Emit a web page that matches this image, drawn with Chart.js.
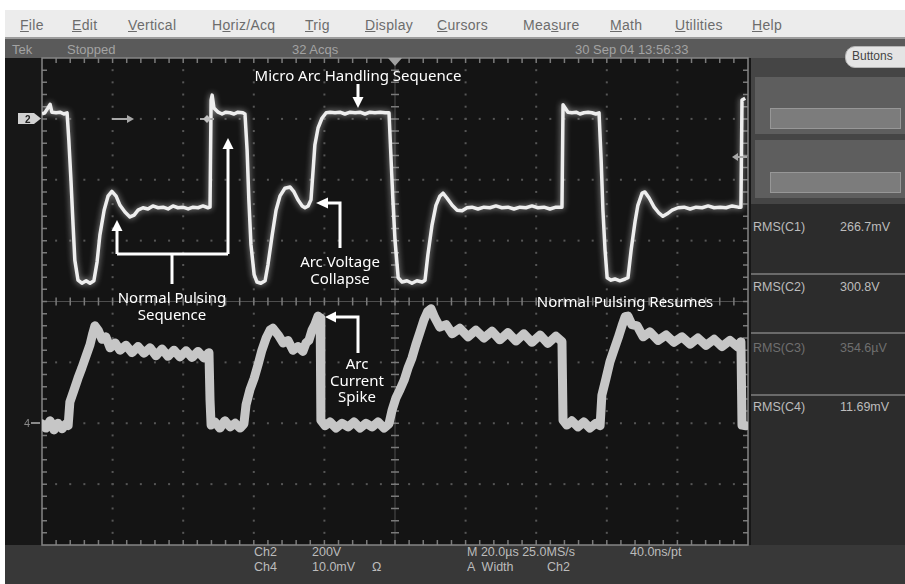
<!DOCTYPE html>
<html>
<head>
<meta charset="utf-8">
<script src="https://cdn.jsdelivr.net/npm/chart.js@4.4.0/dist/chart.umd.min.js"></script>
<style>
  html, body { margin: 0; padding: 0; background: #fff; }
  #page { position: relative; width: 905px; height: 584px; overflow: hidden; font-family: "Liberation Sans", Arial, sans-serif; }
  .a { position: absolute; white-space: pre; }
  .mi { top: 17px; font-size: 14px; line-height: 16px; color: #6c6c6c; letter-spacing: 0.3px; }
  .st { top: 42px; font-size: 13px; line-height: 16px; color: #a3a3a3; }
  .bt { font-size: 12.5px; line-height: 14px; color: #bcbcbc; }
  .rms { font-size: 12.5px; line-height: 14px; color: #bdbdbd; }
  .note { font-family: "Noto Sans", "Open Sans", sans-serif; font-size: 15px; line-height: 17px; color: #fff; text-align: center; transform: translate(-50%, -50%); }
</style>
</head>
<body>
<div id="page">
  <!-- menu bar -->
  <div class="a" style="left:5px;top:10px;width:900px;height:27px;background:#ececec"></div>
  <span class="a mi" style="left:20px"><u>F</u>ile</span>
  <span class="a mi" style="left:72px"><u>E</u>dit</span>
  <span class="a mi" style="left:128px"><u>V</u>ertical</span>
  <span class="a mi" style="left:212px">H<u>o</u>riz/Acq</span>
  <span class="a mi" style="left:305px"><u>T</u>rig</span>
  <span class="a mi" style="left:365px"><u>D</u>isplay</span>
  <span class="a mi" style="left:437px"><u>C</u>ursors</span>
  <span class="a mi" style="left:523px">Mea<u>s</u>ure</span>
  <span class="a mi" style="left:610px"><u>M</u>ath</span>
  <span class="a mi" style="left:675px"><u>U</u>tilities</span>
  <span class="a mi" style="left:752px"><u>H</u>elp</span>

  <!-- status bar -->
  <div class="a" style="left:5px;top:37px;width:900px;height:2px;background:#9c9c9c"></div>
  <div class="a" style="left:5px;top:39px;width:900px;height:19px;background:#5a5a5a"></div>
  <span class="a st" style="left:12px">Tek</span>
  <span class="a st" style="left:67px">Stopped</span>
  <span class="a st" style="left:292px">32 Acqs</span>
  <span class="a st" style="left:575px">30 Sep 04 13:56:33</span>

  <!-- screen backgrounds -->
  <div class="a" style="left:5px;top:58px;width:746px;height:487px;background:#171717"></div>
  <div class="a" style="left:5px;top:545px;width:900px;height:39px;background:#383838"></div>
  <div class="a" style="left:751px;top:58px;width:154px;height:487px;background:#2c2c2c"></div>
  <div class="a" style="left:751px;top:58px;width:154px;height:146px;background:#454545"></div>
  <div class="a" style="left:755px;top:77px;width:150px;height:57px;background:#5e5e5e"></div>
  <div class="a" style="left:770px;top:108px;width:129px;height:19px;background:#7c7c7c;border:1px solid #979797"></div>
  <div class="a" style="left:755px;top:140px;width:150px;height:58px;background:#5e5e5e"></div>
  <div class="a" style="left:770px;top:172px;width:129px;height:19px;background:#7c7c7c;border:1px solid #979797"></div>
  <div class="a" style="left:845px;top:46px;width:70px;height:20px;border-radius:10px;background:#e4e4e4;border:1px solid #b5b5b5"></div>
  <span class="a" style="left:852px;top:49px;font-size:12px;line-height:14px;color:#444">Buttons</span>

  <!-- measurement readouts -->
  <span class="a rms" style="left:753px;top:220px">RMS(C1)</span>
  <span class="a rms" style="left:840px;top:220px">266.7mV</span>
  <div class="a" style="left:751px;top:273px;width:154px;height:2px;background:#6a6a6a"></div>
  <span class="a rms" style="left:753px;top:280px">RMS(C2)</span>
  <span class="a rms" style="left:840px;top:280px">300.8V</span>
  <div class="a" style="left:751px;top:332px;width:154px;height:2px;background:#6a6a6a"></div>
  <span class="a rms" style="left:753px;top:341px;color:#6f6f6f">RMS(C3)</span>
  <span class="a rms" style="left:840px;top:341px;color:#6f6f6f">354.6µV</span>
  <div class="a" style="left:751px;top:394px;width:154px;height:2px;background:#6a6a6a"></div>
  <span class="a rms" style="left:753px;top:400px">RMS(C4)</span>
  <span class="a rms" style="left:840px;top:400px">11.69mV</span>

  <!-- bottom readouts -->
  <span class="a bt" style="left:254px;top:545px">Ch2</span>
  <span class="a bt" style="left:312px;top:545px">200V</span>
  <span class="a bt" style="left:467px;top:545px">M 20.0µs 25.0MS/s</span>
  <span class="a bt" style="left:630px;top:545px">40.0ns/pt</span>
  <span class="a bt" style="left:254px;top:560px">Ch4</span>
  <span class="a bt" style="left:312px;top:560px">10.0mV</span>
  <span class="a bt" style="left:372px;top:560px">Ω</span>
  <span class="a bt" style="left:467px;top:560px">A  Width</span>
  <span class="a bt" style="left:547px;top:560px">Ch2</span>

  <canvas id="scope" width="905" height="584" style="position:absolute;left:0;top:0"></canvas>

  <!-- markers and annotation arrows -->
  <svg class="a" width="905" height="584" style="left:0;top:0">
    <polygon points="18,113 34,113 41,118.5 34,124 18,124" fill="#d2d2d2"/>
    <text x="25" y="122.5" font-size="10" font-family="Liberation Sans" font-weight="bold" fill="#222">2</text>
    <text x="24" y="427" font-size="11" font-family="Liberation Sans" fill="#8a8a8a">4</text>
    <path d="M31 423 H40" stroke="#8a8a8a" stroke-width="2"/>
    <polygon points="388,58 402,58 395,66" fill="#a0a0a0"/>
    <path d="M112 119 H128" stroke="#a8a8a8" stroke-width="2"/>
    <polygon points="127,115 134,119 127,123" fill="#a8a8a8"/>
    <path d="M200 119 H214" stroke="#a8a8a8" stroke-width="2"/>
    <polygon points="207,115 211,119 207,123 203,119" fill="#c0c0c0"/>
    <path d="M737 157 H747" stroke="#a8a8a8" stroke-width="2"/>
    <polygon points="738,153 732,157 738,161" fill="#a8a8a8"/>

    <g stroke="#fff" stroke-width="3" fill="none" stroke-linejoin="miter">
      <path d="M358 84 V99"/>
      <path d="M172 284 V254"/>
      <path d="M117 254 H228"/>
      <path d="M117 254 V230"/>
      <path d="M228 254 V148"/>
      <path d="M340 248 V203 H327"/>
      <path d="M358 353 V317 H335"/>
    </g>
    <g fill="#fff">
      <polygon points="352.5,97 363.5,97 358,108"/>
      <polygon points="111.5,231 122.5,231 117,220"/>
      <polygon points="222.5,149 233.5,149 228,138"/>
      <polygon points="328,197.5 328,208.5 316,203"/>
      <polygon points="336,311.5 336,322.5 325,317"/>
    </g>
  </svg>

  <div class="a note" style="left:358px;top:75px">Micro Arc Handling Sequence</div>
  <div class="a note" style="left:172px;top:306px">Normal Pulsing
Sequence</div>
  <div class="a note" style="left:340px;top:270px">Arc Voltage
Collapse</div>
  <div class="a note" style="left:357px;top:380px;line-height:16.5px">Arc
Current
Spike</div>
  <div class="a note" style="left:625px;top:301px">Normal Pulsing Resumes</div>
</div>

<script>
// time in µs (20 µs/div, 10 div), values in screen divisions (+/-4)
const ch2Time = [0.0, 0.8, 1.7, 2.3, 2.8, 4.0, 5.1, 6.2, 7.1,
  7.6, 8.2, 8.8, 9.3, 10.2, 11.3, 12.5, 13.6, 14.7,
  15.6, 16.4, 17.6, 18.7, 19.8, 21.0, 22.1, 23.5, 24.9, 26.1, 27.2, 28.6, 30.0, 31.4, 32.9, 34.3, 35.7, 37.1, 38.5, 39.9, 41.4, 42.8, 44.2, 45.6, 47.0, 47.6,
  47.9, 48.2, 48.7, 49.9, 51.0, 52.1, 53.3, 54.4, 55.5, 56.9, 57.5,
  58.1, 58.6, 59.2, 60.1, 60.9, 62.0, 63.2,
  64.0, 65.2, 66.3, 67.4, 68.8, 70.3, 71.4, 72.5, 73.7, 74.5, 75.4, 76.2,
  76.8, 77.3, 78.2, 79.3, 80.5, 81.6, 83.0, 84.4, 85.8, 87.3, 88.7, 90.1, 91.5, 92.9, 94.3, 95.8, 97.2, 98.3,
  98.9, 99.4, 100.0, 100.9, 102.0, 103.4, 104.8, 106.2, 107.7, 108.5,
  109.3, 110.5, 111.6, 112.7, 113.6, 114.7, 116.2, 117.6, 119.0, 120.4, 121.8, 123.5, 125.2, 126.9, 128.6, 130.3, 132.0, 133.7, 135.4, 137.1, 138.8, 140.5, 142.2, 143.9, 145.6, 147.3,
  147.6, 148.2, 149.0, 150.1, 151.3, 152.4, 153.5, 154.7, 155.8, 156.9, 157.8,
  158.4, 158.9, 159.5, 160.1, 161.2, 162.3, 163.7, 165.2, 166.0,
  166.9, 168.0, 168.8, 170.0, 170.8, 172.0, 173.4, 174.8, 175.9, 177.1, 178.5, 180.2, 181.9, 183.6, 185.3, 187.0, 188.7, 190.4, 192.1, 193.8, 195.5, 197.2, 198.0,
  198.3, 199.2];
const ch2Div = [3.08, 3.10, 3.18, 3.24, 3.11, 3.10, 3.11, 3.08, 3.10,
  2.65, 2.00, 1.26, 0.68, 0.35, 0.30, 0.34, 0.30, 0.34,
  0.65, 1.09, 1.50, 1.73, 1.81, 1.73, 1.58, 1.47, 1.39, 1.42, 1.50, 1.54, 1.52, 1.57, 1.54, 1.55, 1.52, 1.57, 1.54, 1.55, 1.52, 1.55, 1.54, 1.57, 1.54, 1.55,
  3.31, 3.39, 3.18, 3.11, 3.08, 3.11, 3.10, 3.08, 3.11, 3.10, 3.08,
  2.49, 1.67, 0.93, 0.44, 0.32, 0.30, 0.34,
  0.60, 1.09, 1.50, 1.73, 1.86, 1.88, 1.80, 1.67, 1.57, 1.54, 1.57, 1.67,
  2.16, 2.57, 2.85, 3.01, 3.10, 3.11, 3.10, 3.11, 3.08, 3.11, 3.10, 3.11, 3.08, 3.11, 3.10, 3.11, 3.10, 3.10,
  2.32, 1.67, 1.01, 0.39, 0.32, 0.34, 0.30, 0.34, 0.32, 0.35,
  0.76, 1.26, 1.58, 1.73, 1.78, 1.70, 1.58, 1.50, 1.49, 1.54, 1.55, 1.52, 1.55, 1.54, 1.57, 1.54, 1.55, 1.52, 1.55, 1.54, 1.57, 1.54, 1.55, 1.52, 1.55, 1.55,
  3.23, 3.18, 3.11, 3.10, 3.11, 3.08, 3.10, 3.11, 3.10, 3.08, 3.10,
  2.32, 1.50, 0.85, 0.39, 0.35, 0.37, 0.34, 0.37, 0.39,
  0.85, 1.31, 1.58, 1.78, 1.80, 1.70, 1.55, 1.45, 1.40, 1.44, 1.50, 1.54, 1.55, 1.52, 1.55, 1.54, 1.57, 1.54, 1.55, 1.54, 1.57, 1.55, 1.55,
  3.31, 3.34];

const ch4Time = [0.0, 1.1, 2.3, 3.4, 4.5, 5.7, 6.8, 7.4,
  7.9, 9.1, 10.2, 11.3, 12.5, 13.6, 14.4, 15.0,
  15.9, 17.0, 18.1, 19.3, 20.7, 22.1, 23.8, 25.5, 27.2, 28.9, 30.6, 32.3, 34.0, 35.7, 37.4, 39.1, 40.8, 42.5, 44.2, 45.9, 47.3,
  47.6, 47.9, 49.0, 50.4, 51.8, 53.3, 54.7, 56.1, 57.2,
  57.8, 58.9, 60.1, 61.2, 62.3, 63.5, 64.6, 65.4,
  66.9, 68.3, 69.7, 71.1, 72.5, 73.9, 74.8, 75.6, 76.5, 77.3, 78.2, 78.8,
  79.0, 80.2, 81.6, 83.3, 85.0, 86.7, 88.4, 90.1, 91.8, 93.5, 95.2, 96.9, 98.3,
  99.2, 100.3, 101.4, 102.6, 103.7, 104.8, 105.9, 107.1, 108.2, 109.3, 110.2,
  111.3, 112.7, 114.5, 116.2, 118.4, 120.7, 122.9, 125.2, 127.5, 129.7, 132.0, 134.3, 136.5, 138.8, 141.1, 143.3, 145.6, 147.3,
  147.6, 148.7, 150.1, 151.8, 153.5, 155.2, 156.9, 158.1,
  158.6, 159.8, 160.9, 162.0, 163.2, 164.3, 165.2,
  166.0, 167.1, 168.6, 170.3, 172.2, 174.5, 176.8, 179.0, 181.3, 183.6, 185.8, 188.1, 190.4, 192.6, 194.9, 197.2, 198.0,
  198.3, 199.4];
const ch4Div = [-2.01, -2.08, -1.96, -2.11, -2.00, -2.09, -2.01, -2.04,
  -1.65, -1.45, -1.26, -1.09, -0.89, -0.71, -0.52, -0.40,
  -0.47, -0.62, -0.58, -0.76, -0.68, -0.80, -0.72, -0.84, -0.74, -0.85, -0.76, -0.89, -0.78, -0.90, -0.80, -0.91, -0.81, -0.92, -0.82, -0.93, -0.84,
  -1.62, -2.03, -1.98, -2.08, -1.96, -2.06, -2.00, -2.08, -2.01,
  -1.70, -1.45, -1.26, -1.04, -0.80, -0.60, -0.47, -0.44,
  -0.55, -0.68, -0.64, -0.80, -0.74, -0.82, -0.68, -0.64, -0.47, -0.38, -0.24, -0.27,
  -1.95, -2.04, -1.98, -2.08, -2.00, -2.06, -1.98, -2.08, -2.00, -2.06, -1.98, -2.08, -2.01,
  -1.78, -1.58, -1.45, -1.29, -1.09, -0.93, -0.71, -0.50, -0.30, -0.16, -0.12,
  -0.27, -0.42, -0.38, -0.53, -0.44, -0.58, -0.47, -0.60, -0.49, -0.63, -0.51, -0.65, -0.53, -0.67, -0.55, -0.69, -0.57, -0.66,
  -1.95, -2.03, -1.96, -2.06, -1.98, -2.08, -2.00, -2.04,
  -1.54, -1.26, -0.99, -0.80, -0.60, -0.40, -0.25,
  -0.24, -0.38, -0.40, -0.58, -0.50, -0.64, -0.55, -0.67, -0.58, -0.70, -0.60, -0.72, -0.62, -0.74, -0.64, -0.75, -0.66,
  -2.03, -2.04];

const ch2Points = ch2Time.map((t, i) => ({ x: t, y: ch2Div[i] }));
const ch4Points = ch4Time.map((t, i) => ({ x: t, y: ch4Div[i] }));

// scope graticule: dotted divisions, centre cross and frame with minor ticks
const graticule = {
  id: 'graticule',
  beforeDatasetsDraw(chart) {
    const { ctx, chartArea: a, scales: { x, y } } = chart;
    ctx.save();
    ctx.fillStyle = '#141414';
    ctx.fillRect(a.left, a.top, a.right - a.left, a.bottom - a.top);

    ctx.fillStyle = '#565656';
    for (let d = 1; d < 10; d++) {
      if (d === 5) continue;
      const px = x.getPixelForValue(d * 20);
      for (let k = 1; k < 40; k++) ctx.fillRect(px - 1, y.getPixelForValue(-4 + k * 0.2) - 1, 2, 2);
    }
    for (let d = -3; d <= 3; d++) {
      if (d === 0) continue;
      const py = y.getPixelForValue(d);
      for (let k = 1; k < 50; k++) ctx.fillRect(x.getPixelForValue(k * 4) - 1, py - 1, 2, 2);
    }

    const cx = x.getPixelForValue(100), cy = y.getPixelForValue(0);
    ctx.strokeStyle = '#4e4e4e';
    ctx.lineWidth = 1;
    ctx.beginPath();
    ctx.moveTo(cx, a.top); ctx.lineTo(cx, a.bottom);
    ctx.moveTo(a.left, cy); ctx.lineTo(a.right, cy);
    ctx.stroke();

    ctx.strokeStyle = '#7a7a7a';
    ctx.lineWidth = 1.5;
    ctx.beginPath();
    for (let k = 1; k < 50; k++) {
      const px = x.getPixelForValue(k * 4);
      ctx.moveTo(px, cy - 4); ctx.lineTo(px, cy + 4);
      ctx.moveTo(px, a.top); ctx.lineTo(px, a.top + 5);
      ctx.moveTo(px, a.bottom); ctx.lineTo(px, a.bottom - 5);
    }
    for (let k = 1; k < 40; k++) {
      const py = y.getPixelForValue(-4 + k * 0.2);
      ctx.moveTo(cx - 4, py); ctx.lineTo(cx + 4, py);
      ctx.moveTo(a.left, py); ctx.lineTo(a.left + 5, py);
      ctx.moveTo(a.right, py); ctx.lineTo(a.right - 5, py);
    }
    ctx.stroke();

    ctx.strokeStyle = '#858585';
    ctx.lineWidth = 1.5;
    ctx.strokeRect(a.left, a.top, a.right - a.left, a.bottom - a.top);
    ctx.restore();
  }
};

// soft phosphor glow around a trace
const glow = {
  id: 'glow',
  beforeDatasetDraw(chart, args) {
    const ds = chart.data.datasets[args.index];
    if (!ds.glow) return;
    chart.ctx.save();
    chart.ctx.shadowColor = ds.glow;
    chart.ctx.shadowBlur = 6;
  },
  afterDatasetDraw(chart, args) {
    if (chart.data.datasets[args.index].glow) chart.ctx.restore();
  }
};

new Chart(document.getElementById('scope'), {
  type: 'line',
  data: {
    datasets: [
      { label: 'Ch4', data: ch4Points, borderColor: '#c6c6c6', borderWidth: 9,
        pointRadius: 0, tension: 0, borderJoinStyle: 'round', borderCapStyle: 'round' },
      { label: 'Ch2', data: ch2Points, borderColor: '#eeeeee', borderWidth: 3.5,
        pointRadius: 0, tension: 0, borderJoinStyle: 'round', glow: 'rgba(255,255,255,0.6)' }
    ]
  },
  options: {
    responsive: false,
    animation: false,
    events: [],
    layout: { padding: { left: 42, top: 58, right: 157, bottom: 39 } },
    scales: {
      x: { type: 'linear', min: 0, max: 200, display: false },
      y: { min: -4, max: 4, display: false }
    },
    plugins: { legend: { display: false }, tooltip: { enabled: false } }
  },
  plugins: [graticule, glow]
});
</script>
</body>
</html>
